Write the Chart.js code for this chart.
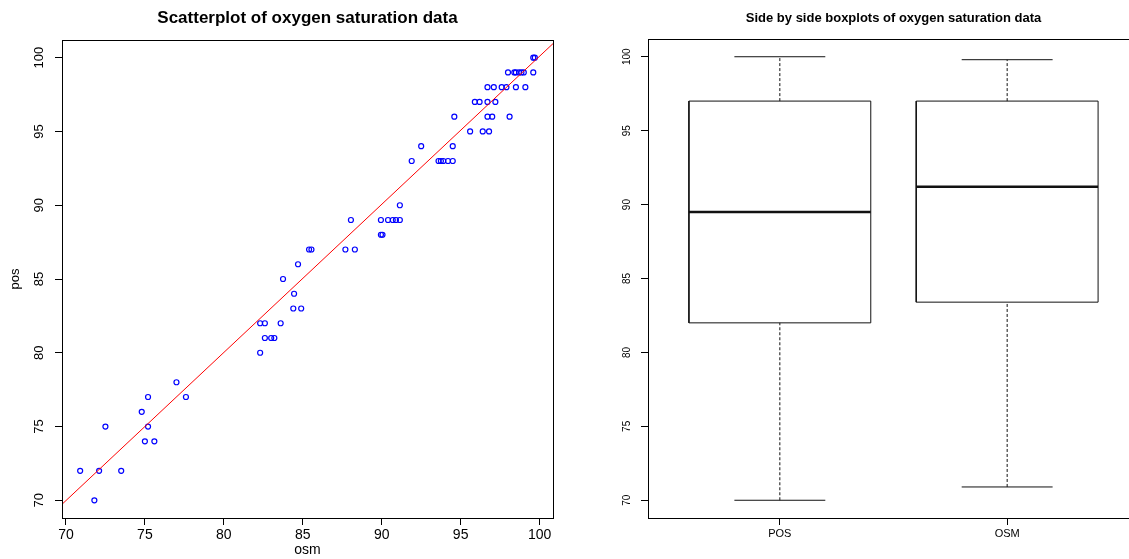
<!DOCTYPE html>
<html>
<head>
<meta charset="utf-8">
<script src="https://cdn.jsdelivr.net/npm/chart.js@4.4.1/dist/chart.umd.min.js"></script>
<style>
  html, body { margin: 0; padding: 0; background: #fff; }
  body { width: 1129px; height: 559px; overflow: hidden; position: relative; }
  #scatterChart { position: absolute; left: 0; top: 0; }
  #boxChart { position: absolute; left: 565px; top: 0; }
</style>
</head>
<body>
<canvas id="scatterChart" width="615" height="559"></canvas>
<canvas id="boxChart" width="600" height="559"></canvas>
<script>
// data
const osm = [70.9, 71.8, 72.1, 73.5, 72.5, 74.8, 75.2, 75.2, 75.0, 75.6,
  77.0, 77.6, 82.3, 82.3, 82.6, 82.6, 83.0, 83.2, 83.6, 84.4,
  84.9, 84.45, 83.75, 84.7, 85.4, 85.55, 87.7, 88.3, 88.05, 89.95,
  90.05, 89.95, 90.4, 90.7, 90.9, 91.15, 91.15, 91.9, 92.5, 93.6,
  93.75, 93.9, 94.2, 94.5, 94.5, 95.6, 96.4, 96.8, 94.6, 96.7,
  97.0, 98.1, 95.9, 96.2, 96.7, 97.2, 96.7, 97.1, 97.6, 97.9,
  98.5, 99.1, 98.0, 98.4, 98.5, 98.7, 98.85, 99.0, 99.6, 99.6, 99.7];
const pos = [72, 70, 72, 72, 75, 76, 77, 75, 74, 74,
  78, 77, 80, 82, 82, 81, 81, 81, 82, 83,
  83, 84, 85, 86, 87, 87, 87, 87, 89, 88,
  88, 89, 89, 89, 89, 89, 90, 93, 94, 93,
  93, 93, 93, 93, 94, 95, 95, 95, 96, 96,
  96, 96, 97, 97, 97, 97, 98, 98, 98, 98,
  98, 98, 99, 99, 99, 99, 99, 99, 99, 100, 100];

// fitted line pos = a + b * osm
const fitIntercept = -0.30;
const fitSlope = 1.004;

// boxplot summaries
const groups = ['POS', 'OSM'];
const boxMin = [70, 70.9];
const boxQ1 = [82, 83.4];
const boxMedian = [89.5, 91.2];
const boxQ3 = [97, 97];
const boxMax = [100, 99.8];

const xTicks = [70, 75, 80, 85, 90, 95, 100];
const yTicks = [70, 75, 80, 85, 90, 95, 100];

Chart.defaults.font.family = '"Liberation Sans", Arial, Helvetica, sans-serif';
Chart.defaults.color = '#000';

// frame, title and rotated y labels like base R graphics
const rFrame = {
  id: 'rFrame',
  afterDraw(chart, args, opts) {
    const { ctx, chartArea: a } = chart;
    ctx.save();
    ctx.strokeStyle = '#000';
    ctx.lineWidth = 1;
    ctx.strokeRect(Math.round(a.left) + 0.5, Math.round(a.top) + 0.5,
      Math.round(a.right - a.left), Math.round(a.bottom - a.top));
    ctx.fillStyle = '#000';
    ctx.textAlign = 'center';
    ctx.textBaseline = 'middle';
    ctx.font = opts.titleFont;
    ctx.fillText(opts.title, (a.left + a.right) / 2, opts.titleY);
    const ys = chart.scales.y;
    ctx.font = opts.yFont;
    ys.ticks.forEach(t => {
      const py = ys.getPixelForValue(t.value);
      ctx.save();
      ctx.translate(a.left - opts.yLabelGap, py);
      ctx.rotate(-Math.PI / 2);
      ctx.fillText(String(t.value), 0, 0);
      ctx.restore();
    });
    ctx.restore();
  }
};

function tickGrid() {
  return { drawOnChartArea: false, drawTicks: true, tickLength: 7, color: '#000', lineWidth: 1 };
}

// ---------- scatterplot ----------
const scatterPts = osm.map((v, i) => ({ x: v, y: pos[i] }));
const xMin = 69.75, xMax = 100.85;
const fitPts = [xMin, xMax].map(v => ({ x: v, y: fitIntercept + fitSlope * v }));

new Chart(document.getElementById('scatterChart'), {
  type: 'scatter',
  data: {
    datasets: [
      {
        data: fitPts, showLine: true, borderColor: '#ff0000', borderWidth: 1,
        pointRadius: 0, fill: false
      },
      {
        data: scatterPts, showLine: false, borderColor: '#0000ff', backgroundColor: 'rgba(0,0,0,0)',
        pointRadius: 2.5, borderWidth: 1.2, pointHoverRadius: 2.5
      }
    ]
  },
  options: {
    responsive: false,
    animation: false,
    events: [],
    layout: { padding: { left: 0, right: 62, top: 40, bottom: 0 } },
    plugins: {
      legend: { display: false },
      tooltip: { enabled: false },
      rFrame: {
        title: 'Scatterplot of oxygen saturation data',
        titleFont: 'bold 17px "Liberation Sans", Arial, sans-serif',
        titleY: 18,
        yFont: '13px "Liberation Sans", Arial, sans-serif',
        yLabelGap: 23
      }
    },
    scales: {
      x: {
        type: 'linear', min: xMin, max: xMax,
        afterBuildTicks: s => { s.ticks = xTicks.map(v => ({ value: v })); },
        afterFit: s => { s.height = 41; },
        grid: tickGrid(),
        border: { display: false },
        ticks: { font: { size: 14 }, padding: 2, maxRotation: 0, autoSkip: false },
        title: { display: true, text: 'osm', font: { size: 14 }, padding: { top: 0, bottom: 0 } }
      },
      y: {
        type: 'linear', min: 68.8, max: 101.2,
        afterBuildTicks: s => { s.ticks = yTicks.map(v => ({ value: v })); },
        afterFit: s => { s.width = 62; },
        grid: tickGrid(),
        border: { display: false },
        ticks: { display: false },
        title: { display: true, text: 'pos', font: { size: 13 }, padding: { top: 8, bottom: 0 } }
      }
    }
  },
  plugins: [rFrame]
});

// ---------- boxplots ----------
const boxWidth = 0.8;
const capWidth = 0.4;
const boxSets = [];
groups.forEach((g, i) => {
  const c = i + 1;
  const l = c - boxWidth / 2, r = c + boxWidth / 2;
  // whiskers (dashed)
  boxSets.push({
    data: [{ x: c, y: boxQ3[i] }, { x: c, y: boxMax[i] }],
    borderDash: [3, 2]
  });
  boxSets.push({
    data: [{ x: c, y: boxMin[i] }, { x: c, y: boxQ1[i] }],
    borderDash: [3, 2]
  });
  // caps
  boxSets.push({ data: [{ x: c - capWidth / 2, y: boxMax[i] }, { x: c + capWidth / 2, y: boxMax[i] }] });
  boxSets.push({ data: [{ x: c - capWidth / 2, y: boxMin[i] }, { x: c + capWidth / 2, y: boxMin[i] }] });
  // box
  boxSets.push({
    data: [{ x: l, y: boxQ1[i] }, { x: r, y: boxQ1[i] }, { x: r, y: boxQ3[i] },
      { x: l, y: boxQ3[i] }, { x: l, y: boxQ1[i] }]
  });
  // median
  boxSets.push({
    data: [{ x: l, y: boxMedian[i] }, { x: r, y: boxMedian[i] }],
    borderWidth: 2.5
  });
});
boxSets.forEach(d => {
  d.showLine = true;
  d.pointRadius = 0;
  d.borderColor = '#111';
  if (!d.borderWidth) d.borderWidth = 1;
  d.fill = false;
  d.tension = 0;
});

new Chart(document.getElementById('boxChart'), {
  type: 'scatter',
  data: { datasets: boxSets },
  options: {
    responsive: false,
    animation: false,
    events: [],
    layout: { padding: { left: 0, right: 26, top: 39, bottom: 0 } },
    plugins: {
      legend: { display: false },
      tooltip: { enabled: false },
      rFrame: {
        title: 'Side by side boxplots of oxygen saturation data',
        titleFont: 'bold 13px "Liberation Sans", Arial, sans-serif',
        titleY: 18,
        yFont: '10px "Liberation Sans", Arial, sans-serif',
        yLabelGap: 21
      }
    },
    scales: {
      x: {
        type: 'linear', min: 0.42, max: 2.58,
        afterBuildTicks: s => { s.ticks = groups.map((g, i) => ({ value: i + 1 })); },
        afterFit: s => { s.height = 41; },
        grid: tickGrid(),
        border: { display: false },
        ticks: {
          font: { size: 11 }, padding: 2, maxRotation: 0, autoSkip: false,
          callback: v => groups[v - 1]
        }
      },
      y: {
        type: 'linear', min: 68.8, max: 101.2,
        afterBuildTicks: s => { s.ticks = yTicks.map(v => ({ value: v })); },
        afterFit: s => { s.width = 83; },
        grid: tickGrid(),
        border: { display: false },
        ticks: { display: false }
      }
    }
  },
  plugins: [rFrame]
});
</script>
</body>
</html>
